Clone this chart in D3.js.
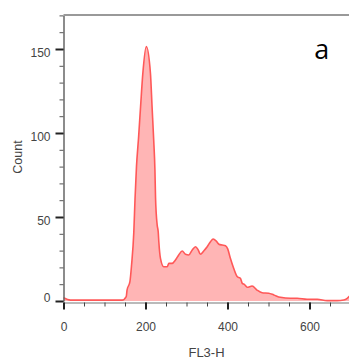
<!DOCTYPE html>
<html>
<head>
<meta charset="utf-8">
<script src="https://cdn.jsdelivr.net/npm/d3@7"></script>
<style>
  html, body { margin: 0; padding: 0; background: #fff; overflow: hidden; }
  svg { display: block; }
  .tick text { font-family: "Liberation Sans", Arial, sans-serif; fill: #444; }
</style>
</head>
<body>
<svg id="chart" width="349" height="358"></svg>
<script>
// FL3-H channel and event count
const channel = [0, 17, 90, 143, 153, 155, 162, 166, 171.5, 174.5, 178, 183, 188, 193.5, 202,
    212, 216, 220, 223, 224.5, 228.5, 231, 232.5, 236.5, 244.5, 253, 257, 265, 273, 281, 289.5,
    297.5, 305.5, 314, 322, 328.5, 334, 342, 350.5, 358.5, 365, 372.5, 379, 387, 395, 400.5, 407,
    415, 423.5, 431.5, 436, 441.5, 448, 460, 472, 484.5, 500.5, 513, 529, 553.5, 570, 594, 619,
    643, 667.5, 683.5, 692, 700]
const counts = [2, 0.5, 0.5, 0.5, 2.6, 6.5, 11.5, 21.4, 41, 61, 80, 97, 115.7, 135.5, 151.4,
    135.7, 115.7, 95.8, 78, 61.3, 45.2, 41.2, 35.3, 25.4, 20.4, 20.4, 22.4, 22.4, 24.4, 27.4, 29.8,
    27.8, 27.4, 30.4, 32.3, 30.4, 27.8, 29.8, 32.3, 35.3, 36.9, 35.7, 33.8, 33.3, 32.9, 31, 25.4,
    19.5, 14.6, 13.5, 10.5, 9.8, 8.2, 8.9, 6.5, 4.9, 4.6, 3.6, 2.2, 1.6, 1.6, 1.0, 1.0,
    0.2, 0.2, 0.6, 1.6, 3.5]

const xMajor = [0, 200, 400, 600]
const yMajor = [0, 50, 100, 150]
const xLabel = "FL3-H"
const yLabel = "Count"
const panelLabel = "a"

const svg = d3.select("#chart")

const x = d3.scaleLinear().domain([0, 700]).range([63.5, 350.5])
const y = d3.scaleLinear().domain([0, 170]).range([301, 15.4])

const data = channel.map((c, i) => ({c: c, n: counts[i]}))

// histogram
svg.append("path")
    .datum(data)
    .attr("fill", "#ffb5b5")
    .attr("d", d3.area().x(d => x(d.c)).y0(y(0)).y1(d => y(d.n)).curve(d3.curveMonotoneX))

svg.append("path")
    .datum(data)
    .attr("fill", "none")
    .attr("stroke", "#ff5858")
    .attr("stroke-width", 1.6)
    .attr("d", d3.line().x(d => x(d.c)).y(d => y(d.n)).curve(d3.curveMonotoneX))

// frame top
svg.append("line")
    .attr("x1", 63.5).attr("x2", 349).attr("y1", 15).attr("y2", 15)
    .attr("stroke", "#777").attr("stroke-width", 1.5)

// y axis, minor then major
svg.append("g")
    .attr("transform", "translate(63.5,0)")
    .call(d3.axisLeft(y).tickValues(d3.range(0, 171, 10)).tickSize(4).tickFormat("").tickSizeOuter(0))
    .call(g => g.select(".domain").attr("stroke", "#666").attr("stroke-width", 1.5))
    .call(g => g.selectAll(".tick line").attr("stroke", "#555"))

svg.append("g")
    .attr("transform", "translate(63.5,0)")
    .call(d3.axisLeft(y).tickValues(yMajor).tickSize(8).tickPadding(5))
    .call(g => g.select(".domain").remove())
    .call(g => g.selectAll(".tick line").attr("stroke", "#222").attr("stroke-width", 2))
    .call(g => g.selectAll(".tick text")
        .attr("font-size", 12)
        .attr("dy", d => d === 0 ? "0.0em" : "0.65em"))

// x axis
svg.append("g")
    .attr("transform", "translate(0,302.5)")
    .call(d3.axisBottom(x).tickValues(d3.range(0, 701, 50)).tickSize(4).tickFormat("").tickSizeOuter(0))
    .call(g => g.select(".domain").attr("stroke", "#777").attr("stroke-width", 1.2))
    .call(g => g.selectAll(".tick line").attr("stroke", "#444"))

svg.append("g")
    .attr("transform", "translate(0,302.5)")
    .call(d3.axisBottom(x).tickValues(xMajor).tickSize(7).tickPadding(18))
    .call(g => g.select(".domain").remove())
    .call(g => g.selectAll(".tick line").attr("stroke", "#222").attr("stroke-width", 2))
    .call(g => g.selectAll(".tick text").attr("font-size", 12).attr("dy", "0.3em"))

// titles
svg.append("text")
    .attr("x", 206.5).attr("y", 356.5)
    .attr("text-anchor", "middle")
    .attr("font-family", "Liberation Sans, Arial, sans-serif")
    .attr("font-size", 13)
    .attr("fill", "#444")
    .text(xLabel)

svg.append("text")
    .attr("transform", "translate(21.5,157) rotate(-90)")
    .attr("text-anchor", "middle")
    .attr("font-family", "Liberation Sans, Arial, sans-serif")
    .attr("font-size", 12.5)
    .attr("fill", "#444")
    .text(yLabel)

svg.append("text")
    .attr("x", 321.7).attr("y", 59.3)
    .attr("text-anchor", "middle")
    .attr("font-family", "Open Sans, sans-serif")
    .attr("font-size", 27)
    .attr("fill", "#000")
    .text(panelLabel)
</script>
</body>
</html>
